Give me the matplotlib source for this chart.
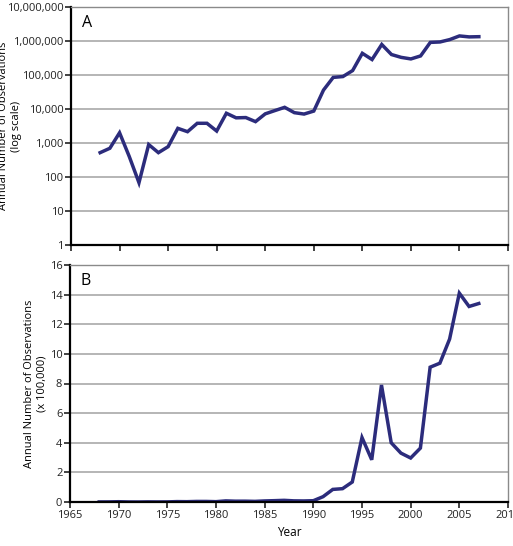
import matplotlib
matplotlib.use("Agg")
import matplotlib.pyplot as plt
import numpy as np
from matplotlib.ticker import FixedLocator, FuncFormatter

years = list(range(1968, 2008))
obs = [520, 700, 2000, 400, 68, 900, 520, 780, 2700, 2150,
       3800, 3800, 2250, 7500, 5500, 5600, 4250, 7200, 9000, 11200,
       7800, 7100, 8700, 36000, 85000, 90000, 135000, 435000, 285000, 790000,
       400000, 330000, 297000, 364000, 910000, 937000, 1100000, 1410000, 1320000, 1340000]

log_ticks = [1, 10, 100, 1000, 10000, 100000, 1000000, 10000000]
lin_ticks = [0, 2, 4, 6, 8, 10, 12, 14, 16]
year_ticks = [1965, 1970, 1975, 1980, 1985, 1990, 1995, 2000, 2005, 2010]

plt.rcParams['font.family'] = ['Open Sans', 'DejaVu Sans']
plt.rcParams['font.size'] = 8

line_col = '#2c2c7c'
grid_col = '#a9a9a9'

fig = plt.figure(figsize=(5.13, 5.46), dpi=100)
ax1 = fig.add_axes([71/513, 1-245/546, 437/513, 238/546])
ax2 = fig.add_axes([70/513, 1-502/546, 438/513, 237/546])


def style(ax):
    for s in ['top', 'right']:
        ax.spines[s].set_color('#8a8a8a')
        ax.spines[s].set_linewidth(1.0)
    for s in ['left', 'bottom']:
        ax.spines[s].set_color('black')
        ax.spines[s].set_linewidth(1.6)
    ax.tick_params(direction='out', length=4, width=1.2, colors='#222222', pad=1.5, labelsize=8)
    ax.yaxis.grid(True, color=grid_col, linewidth=1.2)
    ax.set_axisbelow(True)
    ax.set_xlim(1965, 2010)
    ax.xaxis.set_major_locator(FixedLocator(year_ticks))


# panel A: log scale
ax1.plot(years, obs, color=line_col, linewidth=2.5, solid_joinstyle='miter')
ax1.set_yscale('log')
ax1.set_ylim(1, 1e7)
ax1.yaxis.set_major_locator(FixedLocator(log_ticks))
ax1.yaxis.set_minor_locator(FixedLocator([]))
ax1.yaxis.set_major_formatter(FuncFormatter(lambda v, p: f"{int(round(v)):,}"))
style(ax1)
ax1.set_xticklabels([])
ax1.set_ylabel("Annual Number of Observations\n(log scale)", fontsize=8, linespacing=1.2)
ax1.yaxis.set_label_coords(-0.112, 0.5)
ax1.text(0.025, 0.965, "A", transform=ax1.transAxes, fontsize=11.5, va='top', ha='left')

# panel B: linear, x 100,000
ax2.plot(years, np.array(obs) / 1e5, color=line_col, linewidth=2.5, solid_joinstyle='miter')
ax2.set_ylim(0, 16)
ax2.yaxis.set_major_locator(FixedLocator(lin_ticks))
style(ax2)
ax2.set_ylabel("Annual Number of Observations\n(x 100,000)", fontsize=8, linespacing=1.2)
ax2.yaxis.set_label_coords(-0.052, 0.5)
ax2.set_xlabel("Year", fontsize=8.5, labelpad=4)
ax2.text(0.025, 0.965, "B", transform=ax2.transAxes, fontsize=11.5, va='top', ha='left')

fig.savefig("out.png", dpi=100)
